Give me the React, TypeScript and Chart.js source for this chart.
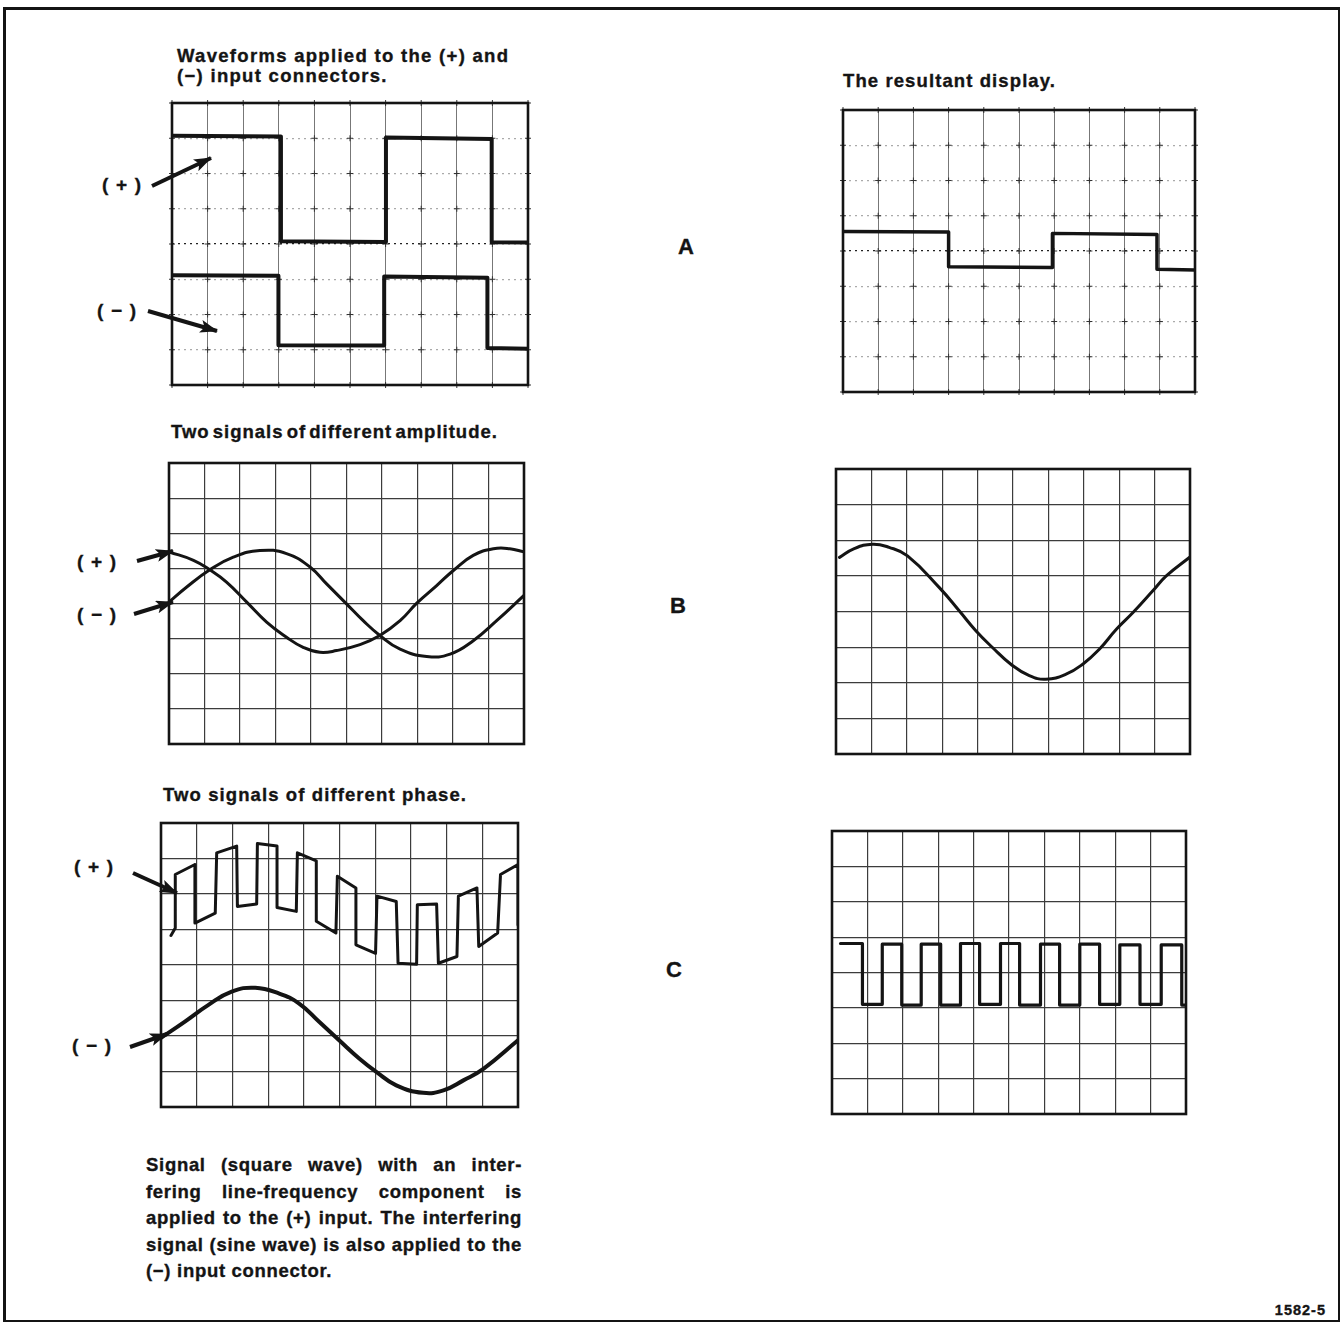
import React, { useEffect, useRef } from "react";
import { Chart, registerables } from "chart.js";

Chart.register(...registerables);

// ---------------- data (graticule divisions: x 0..10, y 0..8) ----------------
const xTicks = [0, 1, 2, 3, 4, 5, 6, 7, 8, 9, 10];
const yTicks = [0, 1, 2, 3, 4, 5, 6, 7, 8];

// A (left): square waves applied to (+) and (−)
const aPlusX = [0, 3.06, 3.06, 6.01, 6.01, 8.98, 8.98, 10];
const aPlusY = [7.07, 7.05, 4.08, 4.06, 7.02, 6.98, 4.05, 4.04];
const aMinusX = [0, 2.99, 2.99, 5.96, 5.96, 8.86, 8.86, 10];
const aMinusY = [3.11, 3.1, 1.13, 1.12, 3.08, 3.04, 1.05, 1.03];
// A (right): resultant
const aResX = [0, 3.0, 3.0, 5.95, 5.95, 8.92, 8.92, 10];
const aResY = [4.55, 4.54, 3.55, 3.53, 4.5, 4.47, 3.48, 3.46];

// B (left): two sine signals
const bPlusX = [0, 0.69, 1.15, 1.62, 2.19, 2.75, 3.31, 3.78, 4.25, 4.72, 5.38, 5.94, 6.51, 6.98, 7.54, 8.01, 8.57, 9.14, 9.6, 10];
const bPlusY = [5.47, 5.23, 4.96, 4.61, 4.04, 3.47, 3.04, 2.75, 2.61, 2.66, 2.83, 3.09, 3.51, 4.01, 4.51, 4.94, 5.37, 5.56, 5.56, 5.47];
const bMinusX = [0, 0.5, 1.15, 1.81, 2.56, 3.31, 3.97, 4.44, 5.0, 5.47, 5.94, 6.51, 7.26, 7.92, 8.57, 9.23, 10];
const bMinusY = [4.04, 4.47, 4.96, 5.32, 5.51, 5.42, 5.04, 4.56, 3.99, 3.51, 3.09, 2.7, 2.49, 2.56, 2.94, 3.51, 4.23];
// B (right): resultant
const bResX = [0.1, 0.5, 1.03, 1.5, 2.02, 2.92, 3.48, 3.95, 4.42, 4.94, 5.46, 5.93, 6.5, 6.97, 7.44, 7.92, 8.39, 8.95, 9.33, 10];
const bResY = [5.52, 5.76, 5.89, 5.8, 5.56, 4.67, 4.02, 3.46, 2.99, 2.52, 2.2, 2.1, 2.24, 2.52, 2.94, 3.5, 3.97, 4.58, 5.0, 5.53];

// C (left): square wave with line-frequency interference (+), and the sine (−)
const cPlusX = [0.28, 0.4, 0.4, 0.95, 0.95, 1.52, 1.56, 2.12, 2.14, 2.68, 2.7, 3.25, 3.25, 3.79, 3.82, 4.35, 4.35, 4.9, 4.94, 5.46, 5.46, 6.01, 6.05, 6.59, 6.64, 7.16, 7.18, 7.72, 7.77, 8.29, 8.33, 8.85, 8.9, 9.43, 9.51, 10.0, 10.0];
const cPlusY = [4.83, 5.04, 6.55, 6.83, 5.18, 5.46, 7.16, 7.35, 5.65, 5.72, 7.42, 7.35, 5.62, 5.51, 7.16, 6.93, 5.23, 4.9, 6.5, 6.17, 4.57, 4.33, 5.94, 5.79, 4.05, 4.02, 5.7, 5.72, 4.05, 4.24, 5.94, 6.17, 4.52, 4.9, 6.55, 6.83, 5.13];
const cMinusX = [0, 0.66, 1.32, 1.98, 2.64, 3.3, 3.86, 4.43, 4.99, 5.56, 6.03, 6.59, 7.34, 7.91, 8.47, 9.04, 10];
const cMinusY = [1.95, 2.4, 2.87, 3.25, 3.36, 3.2, 2.92, 2.4, 1.88, 1.36, 0.99, 0.61, 0.4, 0.47, 0.75, 1.08, 1.88];
// C (right): resultant square wave
const cResX = [0.24, 0.86, 0.86, 1.42, 1.42, 1.97, 1.97, 2.52, 2.52, 3.07, 3.07, 3.63, 3.63, 4.17, 4.17, 4.76, 4.76, 5.3, 5.3, 5.89, 5.89, 6.43, 6.43, 7.0, 7.0, 7.56, 7.56, 8.13, 8.13, 8.7, 8.7, 9.3, 9.3, 9.88, 9.88, 10];
const cResY = [4.82, 4.82, 3.1, 3.1, 4.8, 4.8, 3.08, 3.08, 4.8, 4.8, 3.08, 3.08, 4.82, 4.82, 3.1, 3.1, 4.82, 4.82, 3.08, 3.08, 4.8, 4.8, 3.08, 3.08, 4.8, 4.8, 3.1, 3.1, 4.78, 4.78, 3.1, 3.1, 4.78, 4.78, 3.08, 3.08];

// ---------------- text ----------------
const titleA1 = "Waveforms applied to the (+) and";
const titleA2 = "(\u2212) input connectors.";
const titleRes = "The resultant display.";
const titleB = "Two signals of different amplitude.";
const titleC = "Two signals of different phase.";
const noteLines = [
  "Signal (square wave) with an inter-",
  "fering line-frequency component is",
  "applied to the (+) input. The interfering",
  "signal (sine wave) is also applied to the",
  "(\u2212) input connector.",
];
const plusLabel = "( + )";
const minusLabel = "( \u2212 )";
const figNumber = "1582-5";

type Series = { xs: number[]; ys: number[]; width: number; smooth: boolean };

const FONT = '"Liberation Sans", Arial, Helvetica, sans-serif';
const INK = "#141414";

const framePlugin = {
  id: "scopeFrame",
  beforeDatasetsDraw(chart: any, _args: any, opts: any) {
    if (!opts || !opts.marks) return;
    const { ctx, scales } = chart;
    ctx.save();
    ctx.strokeStyle = "#333";
    ctx.lineWidth = 1;
    for (const xv of xTicks) {
      for (const yv of yTicks) {
        const px = scales.x.getPixelForValue(xv);
        const py = scales.y.getPixelForValue(yv);
        ctx.beginPath();
        ctx.moveTo(px - 3, py);
        ctx.lineTo(px + 3, py);
        ctx.moveTo(px, py - 3);
        ctx.lineTo(px, py + 3);
        ctx.stroke();
      }
    }
    ctx.restore();
  },
  afterDatasetsDraw(chart: any) {
    const { ctx, chartArea } = chart;
    const { left, top, right, bottom } = chartArea;
    ctx.save();
    ctx.strokeStyle = INK;
    ctx.lineWidth = 2.6;
    ctx.strokeRect(left, top, right - left, bottom - top);
    ctx.restore();
  },
};

function Panel(props: {
  left: number;
  top: number;
  width: number;
  height: number;
  series: Series[];
  kind: "a" | "grid";
}) {
  const ref = useRef<HTMLCanvasElement>(null);
  const pad = 4;
  const { left, top, width, height, series, kind } = props;
  useEffect(() => {
    const isA = kind === "a";
    const chart = new Chart(ref.current as HTMLCanvasElement, {
      type: "scatter",
      data: {
        datasets: series.map((s) => ({
          data: s.xs.map((x, i) => ({ x, y: s.ys[i] })),
          showLine: true,
          borderColor: INK,
          backgroundColor: INK,
          borderWidth: s.width,
          pointRadius: 0,
          tension: s.smooth ? 0.45 : 0,
          borderCapStyle: "round",
          borderJoinStyle: "round",
        })) as any,
      },
      options: {
        responsive: false,
        animation: false,
        events: [],
        layout: { padding: pad },
        plugins: {
          legend: { display: false },
          tooltip: { enabled: false },
          scopeFrame: { marks: isA },
        } as any,
        scales: {
          x: {
            type: "linear",
            min: 0,
            max: 10,
            ticks: { display: false, stepSize: 1 },
            grid: { color: isA ? "#777" : "#3c3c3c", lineWidth: isA ? 1 : 1.2, drawTicks: false },
            border: { display: false },
          },
          y: {
            type: "linear",
            min: 0,
            max: 8,
            ticks: { display: false, stepSize: 1 },
            grid: {
              color: isA
                ? (c: any) => (c.tick && c.tick.value === 4 ? "#222" : "#aaa")
                : "#3c3c3c",
              lineWidth: 1.2,
              drawTicks: false,
            },
            border: { display: false, dash: isA ? [2, 4] : [] },
          },
        },
      } as any,
      plugins: [framePlugin],
    });
    return () => chart.destroy();
  }, []);
  return (
    <canvas
      ref={ref}
      width={width + 2 * pad}
      height={height + 2 * pad}
      style={{
        position: "absolute",
        left: left - pad,
        top: top - pad,
        width: width + 2 * pad,
        height: height + 2 * pad,
      }}
    />
  );
}

function Txt(props: {
  x: number;
  y: number;
  size: number;
  text: string;
  ls?: number;
  ws?: number;
  lh?: number;
  w?: number;
  align?: any;
}) {
  const lh = props.lh ?? props.size * 1.15;
  return (
    <div
      style={{
        position: "absolute",
        left: props.x,
        top: props.y - lh / 2,
        width: props.w,
        fontFamily: FONT,
        fontWeight: 700,
        fontSize: props.size,
        lineHeight: lh + "px",
        letterSpacing: props.ls ?? 0,
        wordSpacing: props.ws ?? 0,
        whiteSpace: "pre",
        textAlign: props.align ?? "left",
        color: INK,
        WebkitTextStroke: "0.35px " + INK,
      } as any}
    >
      {props.text}
    </div>
  );
}

const arrows = [
  [152, 186, 211, 158],
  [148, 311, 217, 331],
  [137, 561, 173, 551],
  [134, 614, 173, 602],
  [133, 873, 177, 893],
  [130, 1047, 167, 1034],
];

export default function App() {
  return (
    <div
      style={{
        position: "absolute",
        left: 0,
        top: 0,
        width: 1342,
        height: 1324,
        background: "#fff",
        overflow: "hidden",
      }}
    >
      {/* outer frame */}
      <div
        style={{
          position: "absolute",
          left: 3,
          top: 7,
          width: 1332,
          height: 1310,
          border: "2px solid " + INK,
          borderTopWidth: 3,
          borderLeftWidth: 3,
        }}
      />

      <Txt x={177} y={56} size={18.5} ls={1.3} text={titleA1} />
      <Txt x={177} y={76} size={18.5} ls={1.3} text={titleA2} />
      <Txt x={843} y={81} size={18.5} ls={1.1} text={titleRes} />
      <Txt x={171} y={432} size={18.5} ls={1.0} ws={-3} text={titleB} />
      <Txt x={163} y={795} size={18.5} ls={1.1} text={titleC} />

      <Txt x={666} y={247} w={40} align="center" size={22} text="A" />
      <Txt x={658} y={606} w={40} align="center" size={22} text="B" />
      <Txt x={654} y={970} w={40} align="center" size={22} text="C" />

      <Txt x={102} y={185} size={19} ls={1.2} text={plusLabel} />
      <Txt x={97} y={311} size={19} ls={1.2} text={minusLabel} />
      <Txt x={77} y={562} size={19} ls={1.2} text={plusLabel} />
      <Txt x={77} y={615} size={19} ls={1.2} text={minusLabel} />
      <Txt x={74} y={867} size={19} ls={1.2} text={plusLabel} />
      <Txt x={72} y={1046} size={19} ls={1.2} text={minusLabel} />

      {noteLines.map((t, i) => (
        <div
          key={i}
          style={{
            position: "absolute",
            left: 146,
            top: 1152 + i * 26.5,
            width: 376,
            fontFamily: FONT,
            fontWeight: 700,
            fontSize: 18.5,
            lineHeight: "26px",
            letterSpacing: 0.7,
            whiteSpace: "nowrap",
            textAlign: i < noteLines.length - 1 ? "justify" : "left",
            textAlignLast: i < noteLines.length - 1 ? "justify" : "left",
            color: INK,
            WebkitTextStroke: "0.35px " + INK,
          } as any}
        >
          {t}
        </div>
      ))}

      <Txt x={1266} y={1310} w={60} align="right" size={14.5} ls={1} text={figNumber} />

      <Panel
        left={172}
        top={103}
        width={356}
        height={282}
        kind="a"
        series={[
          { xs: aPlusX, ys: aPlusY, width: 4, smooth: false },
          { xs: aMinusX, ys: aMinusY, width: 4, smooth: false },
        ]}
      />
      <Panel
        left={843}
        top={110}
        width={352}
        height={282}
        kind="a"
        series={[{ xs: aResX, ys: aResY, width: 3.5, smooth: false }]}
      />
      <Panel
        left={169}
        top={463}
        width={355}
        height={281}
        kind="grid"
        series={[
          { xs: bPlusX, ys: bPlusY, width: 3, smooth: true },
          { xs: bMinusX, ys: bMinusY, width: 3, smooth: true },
        ]}
      />
      <Panel
        left={836}
        top={469}
        width={354}
        height={285}
        kind="grid"
        series={[{ xs: bResX, ys: bResY, width: 3, smooth: true }]}
      />
      <Panel
        left={161}
        top={823}
        width={357}
        height={284}
        kind="grid"
        series={[
          { xs: cPlusX, ys: cPlusY, width: 3, smooth: false },
          { xs: cMinusX, ys: cMinusY, width: 4, smooth: true },
        ]}
      />
      <Panel
        left={832}
        top={831}
        width={354}
        height={283}
        kind="grid"
        series={[{ xs: cResX, ys: cResY, width: 3.2, smooth: false }]}
      />

      <svg
        width={1342}
        height={1324}
        style={{ position: "absolute", left: 0, top: 0, pointerEvents: "none" }}
      >
        <defs>
          <marker
            id="ah"
            markerUnits="userSpaceOnUse"
            markerWidth={18}
            markerHeight={13}
            refX={17}
            refY={6.5}
            orient="auto"
          >
            <path d="M0,0 L18,6.5 L0,13 L4,6.5 z" fill={INK} />
          </marker>
        </defs>
        {arrows.map((a, i) => (
          <line
            key={i}
            x1={a[0]}
            y1={a[1]}
            x2={a[2]}
            y2={a[3]}
            stroke={INK}
            strokeWidth={4}
            markerEnd="url(#ah)"
          />
        ))}
      </svg>
    </div>
  );
}
